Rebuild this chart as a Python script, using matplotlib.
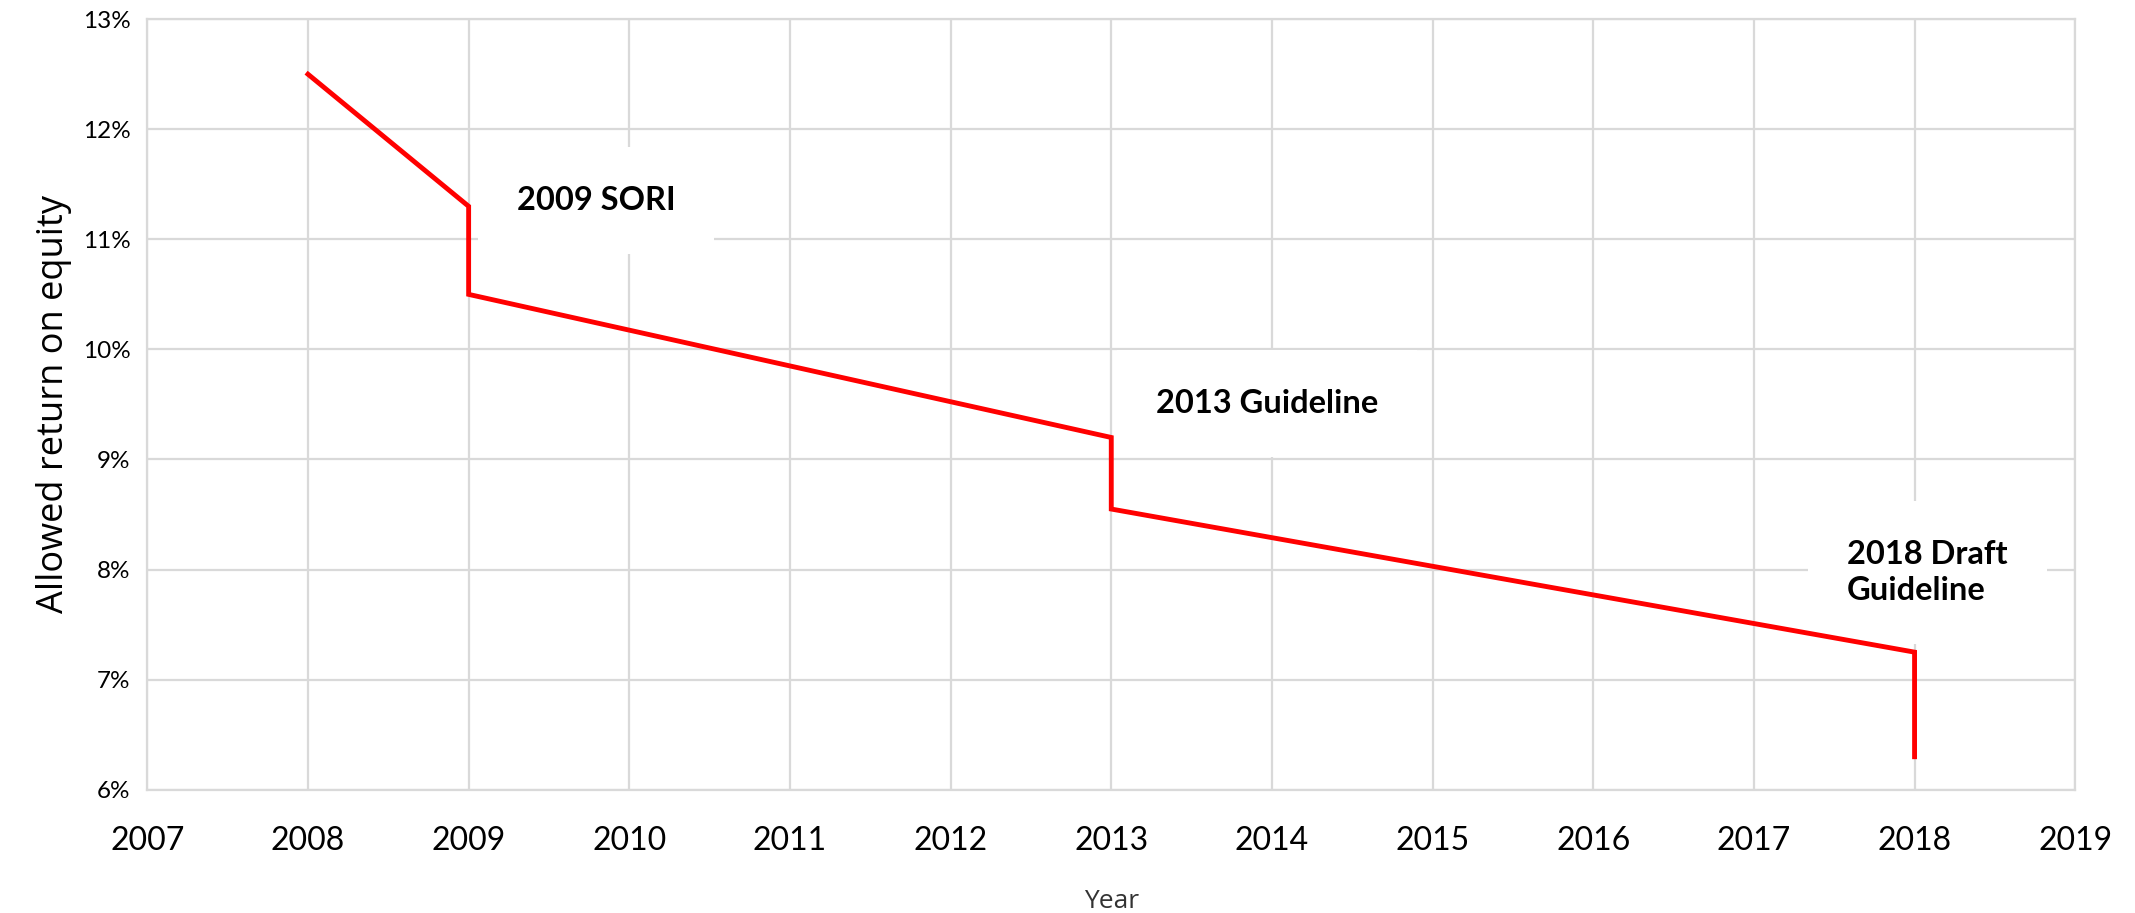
import matplotlib
matplotlib.use("Agg")
import matplotlib.pyplot as plt
from matplotlib.ticker import PercentFormatter, MultipleLocator

plt.rcParams['font.family'] = ['Lato', 'DejaVu Sans']

# step line of allowed ROE (percent)
years = [2008, 2009, 2009, 2013, 2013, 2018, 2018]
roe = [12.5, 11.3, 10.5, 9.2, 8.55, 7.25, 6.3]

notes = ["2009 SORI", "2013 Guideline", "2018 Draft\nGuideline"]
note_x = [2009.30, 2013.28, 2017.58]
note_y = [11.35, 9.51, 7.97]

grid_col = "#d9d9d9"

fig = plt.figure(figsize=(21.35, 9.13), dpi=100)
ax = fig.add_axes([0.069, 0.135, 0.903, 0.844])

ax.plot(years, roe, color="#ff0000", lw=3.5, solid_joinstyle="miter", zorder=3)

ax.set_xlim(2007, 2019)
ax.set_ylim(6, 13)
ax.xaxis.set_major_locator(MultipleLocator(1))
ax.yaxis.set_major_locator(MultipleLocator(1))
ax.yaxis.set_major_formatter(PercentFormatter(decimals=0))
ax.grid(True, color=grid_col, lw=1.6)
ax.set_axisbelow(True)
for s in ax.spines.values():
    s.set_color(grid_col)
    s.set_linewidth(1.6)

ax.tick_params(axis="x", length=0, labelsize=23, pad=26)
ax.tick_params(axis="y", length=0, labelsize=17.5, pad=12)

ax.set_xlabel("Year", fontsize=19, color="#333333", labelpad=24,
              family=["Open Sans", "DejaVu Sans"])
ax.set_ylabel("Allowed return on equity", fontsize=26, labelpad=8,
              family=["Open Sans", "DejaVu Sans"])

for t, x, y in zip(notes, note_x, note_y):
    ax.text(x, y, t, fontsize=23.5, fontweight="bold", ha="left", va="center",
            linespacing=1.3, zorder=2,
            bbox=dict(facecolor="white", edgecolor="none", pad=28))

fig.savefig("out.png", dpi=100)
